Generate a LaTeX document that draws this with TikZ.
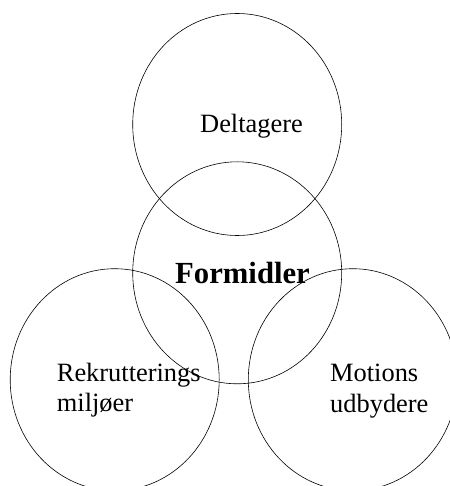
\documentclass[tikz,border=0pt]{standalone}
\usepackage{fontspec}
\setmainfont{Liberation Serif}
\usepackage{tikz}
\usetikzlibrary{shapes.geometric}

\begin{document}
\begin{tikzpicture}[
    x=1bp, y=-1bp,
    ring/.style={draw, ellipse, minimum width=209bp, minimum height=222bp,
        inner sep=0pt, line width=0.6bp},
    ringtext/.style={inner sep=0pt, align=left, font=\fontsize{26.5}{30.5}\selectfont},
    centertext/.style={inner sep=0pt, font=\fontsize{30.8}{34}\selectfont\bfseries}
]
\useasboundingbox (0,0) rectangle (450,486);
\clip (0,0) rectangle (450,486);
\node[ring] (deltagere) at (237.2,124.5) {};
\node[ring] (formidler) at (237.2,272.8) {};
\node[ring] (rekruttering) at (114.7,379.7) {};
\node[ring] (motion) at (352.8,379.7) {};
\node[ringtext, anchor=base west] (deltageretext) at (200,132.7) {Deltagere};
\node[centertext, anchor=base] (formidlertext) at (242.5,283) {Formidler};
\node[ringtext, anchor=base west] (rekrutteringtext) at (56.7,411.7) {Rekrutterings\\miljøer};
\node[ringtext, anchor=base west] (motiontext) at (330,412) {Motions\\udbydere};
\end{tikzpicture}
\end{document}
